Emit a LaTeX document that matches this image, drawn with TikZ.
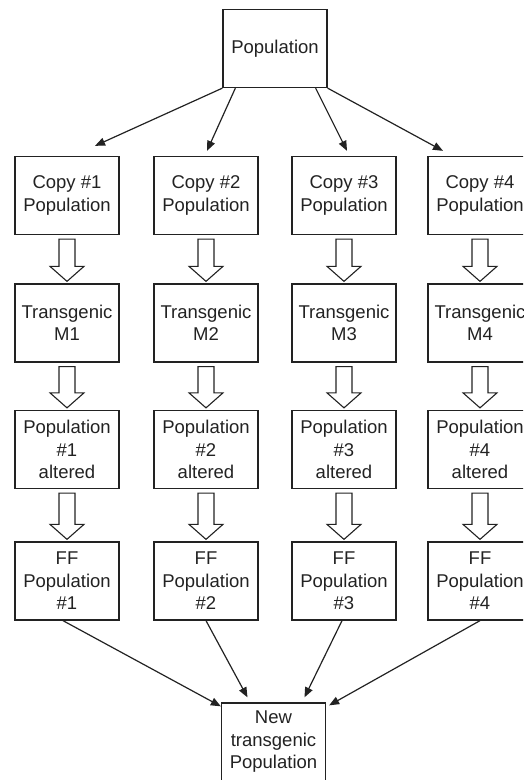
\documentclass[tikz,border=0pt]{standalone}
\usepackage{fontspec}
\setmainfont{Liberation Sans}
\usetikzlibrary{calc,arrows.meta}
\definecolor{ink}{HTML}{222222}
\tikzset{
  box/.style={draw=ink, line width=1.3pt, minimum width=104pt, minimum height=78pt,
    inner sep=0pt, align=center, text=ink, font=\fontsize{18.5}{22.5}\selectfont},
  link/.style={draw=ink, line width=1.2pt, -{Triangle[length=10pt,width=8pt]}},
  hollow/.style={draw=ink, line width=1.1pt, fill=white, line join=miter}
}
\begin{document}
\begin{tikzpicture}[x=1pt,y=-1pt]
  \clip (0,0) rectangle (523,780);

  \node[box] (pop) at (275,48.5) {Population};

  \foreach \i/\x in {1/67,2/206,3/344,4/480} {
    \node[box] (c\i) at (\x,195.5) {Copy \#\i\\Population};
    \node[box] (t\i) at (\x,323) {Transgenic\\M\i};
    \node[box] (p\i) at (\x,449.5) {Population\\\#\i\\altered};
    \node[box] (f\i) at (\x,581) {FF\\Population\\\#\i};
  }

  \node[box] (new) at (273.5,742) {New\\transgenic\\Population};

  % hollow block arrows down each column
  \foreach \i in {1,...,4} {
    \foreach \a/\b in {c/t,t/p,p/f} {
      \coordinate (s) at ($(\a\i.south)+(0,4)$);
      \coordinate (e) at ($(\b\i.north)+(0,-2)$);
      \coordinate (h) at ($(e)+(0,-15)$);
      \draw[hollow] ($(s)+(-8,0)$) -- ($(h)+(-8,0)$) -- ($(h)+(-17,0)$) -- (e)
        -- ($(h)+(17,0)$) -- ($(h)+(8,0)$) -- ($(s)+(8,0)$) -- cycle;
    }
  }

  \draw[link] (pop.south west) -- ($(c1.north)+(28,-10)$);
  \draw[link] ($(pop.south west)+(13,0)$) -- ($(c2.north)+(1,-5)$);
  \draw[link] ($(pop.south east)+(-12,0)$) -- ($(c3.north)+(3,-5)$);
  \draw[link] (pop.south east) -- ($(c4.north)+(-37,-5)$);

  \draw[link] ($(f1.south)+(-4,0)$) -- ($(new.north west)+(0,4)$);
  \draw[link] (f2.south) -- ($(new.north)+(-26,-5)$);
  \draw[link] ($(f3.south)+(-2,0)$) -- ($(new.north)+(31,-5)$);
  \draw[link] (f4.south) -- ($(new.north east)+(3,3)$);
\end{tikzpicture}
\end{document}
